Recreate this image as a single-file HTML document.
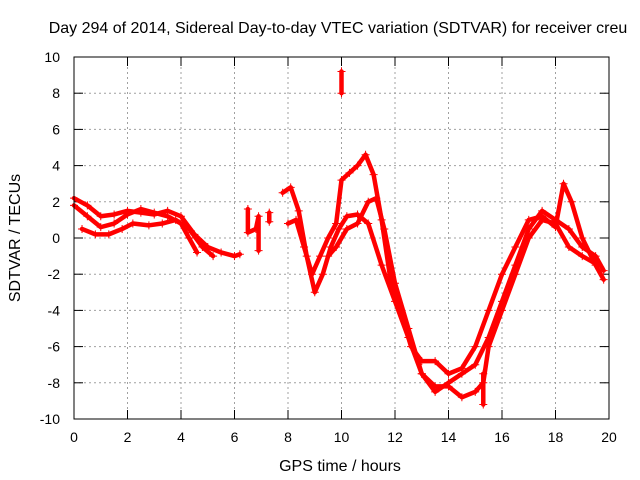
<!DOCTYPE html>
<html><head><meta charset="utf-8"><style>
body{margin:0;background:#fff}
svg{display:block;font-family:"Liberation Sans",sans-serif;font-size:14px}
.big{font-size:16px}
</style></head><body>
<svg id="c" width="640" height="480">
<text class="big" x="338" y="33" text-anchor="middle">Day 294 of 2014, Sidereal Day-to-day VTEC variation (SDTVAR) for receiver creu</text>
<text class="big" x="340" y="471" text-anchor="middle">GPS time / hours</text>
<text class="big" transform="translate(20,238) rotate(-90)" text-anchor="middle">SDTVAR / TECUs</text>
<g id="grid"></g>
<g id="ticks"></g>
<g id="series"></g>
<rect x="74" y="57" width="535" height="362" fill="none" stroke="#000"/>
</svg>
<script>
const xTicks=[0,2,4,6,8,10,12,14,16,18,20];
const yTicks=[-10,-8,-6,-4,-2,0,2,4,6,8,10];
const traceA=[[0,2.2],[0.5,1.8],[1,1.2],[1.5,1.3],[2,1.5],[2.5,1.4],[3,1.3],[3.5,1.5],[4,1.2],[4.5,0.2],[5,-0.5],[5.5,-0.8],[6,-1.0],[6.2,-0.9]];
const traceB=[[0,1.8],[0.5,1.2],[1,0.6],[1.5,0.8],[2,1.3],[2.5,1.6],[3,1.4],[3.5,1.2],[4,0.8],[4.3,0],[4.6,-0.8]];
const traceC=[[0.3,0.5],[0.8,0.2],[1.3,0.2],[1.8,0.5],[2.2,0.8],[2.8,0.7],[3.3,0.8],[3.8,1.0],[4.3,0.5],[4.8,-0.5],[5.2,-1.0]];
const traceG1=[[6.5,1.6],[6.5,0.3],[6.8,0.5],[6.9,1.2],[6.9,-0.7]];
const traceG2=[[7.3,1.4],[7.3,0.9]];
const traceD=[[7.8,2.5],[8.1,2.8],[8.4,1.5],[8.7,-1],[9.0,-3],[9.3,-2],[9.6,-0.5],[9.9,0.5],[10.2,1.2],[10.6,1.3],[11,0.8],[11.5,-1.5],[12,-3.5],[12.5,-5.5],[13,-7.5],[13.5,-8.5],[14,-8],[14.5,-7.5],[15,-7],[15.5,-5.5],[16,-3.5],[16.5,-1.5],[17,0.5],[17.5,1.5],[18,1],[18.5,0.5],[19,-0.5],[19.5,-1],[19.8,-1.8]];
const traceE=[[8,0.8],[8.3,1],[8.6,-0.5],[8.9,-2],[9.2,-1],[9.5,0],[9.8,0.8],[10.0,3.2],[10.3,3.6],[10.6,4],[10.9,4.6],[11.2,3.5],[11.5,1],[11.8,-2],[12.2,-4],[12.6,-6],[13,-6.8],[13.5,-6.8],[14,-7.5],[14.5,-7.2],[15,-6],[15.5,-4],[16,-2],[16.5,-0.5],[17,1],[17.5,1.2],[18,0.6],[18.3,3],[18.6,2],[19,0],[19.5,-1.5],[19.8,-2.3]];
const traceF=[[9.5,-1],[9.8,-0.5],[10.2,0.5],[10.6,0.8],[11,2],[11.3,2.2],[11.6,0.5],[12,-2.5],[12.5,-5],[13,-7.5],[13.5,-8.2],[14,-8.2],[14.5,-8.8],[15,-8.5],[15.3,-8],[15.5,-6],[16,-4],[16.5,-2],[17,0],[17.5,1],[18,0.8],[18.5,-0.5],[19,-1],[19.6,-1.5]];
const spike1=[[10,9.2],[10,8.0]];
const spike2=[[15.3,-7.5],[15.3,-9.2]];
const traces=[traceA,traceB,traceC,traceG1,traceG2,traceD,traceE,traceF,spike1,spike2];

const X=v=>74+v/20*535, Y=v=>238-v/10*181;
const ns="http://www.w3.org/2000/svg";
function mk(tag,parent,attrs){const e=document.createElementNS(ns,tag);for(const k in attrs)e.setAttribute(k,attrs[k]);parent.appendChild(e);return e;}
const grid=document.getElementById('grid'),ticks=document.getElementById('ticks'),ser=document.getElementById('series');
xTicks.forEach(t=>{
  if(t>0&&t<20){const l=mk('line',grid,{x1:X(t),x2:X(t),y1:57,y2:419,stroke:'#a0a0a0','stroke-dasharray':'2,3'});}
  mk('line',ticks,{x1:X(t),x2:X(t),y1:419,y2:410,stroke:'#000'});mk('line',ticks,{x1:X(t),x2:X(t),y1:57,y2:66,stroke:'#000'});
  const tx=mk('text',ticks,{x:X(t),y:442,'text-anchor':'middle'});tx.textContent=t;
  
});
yTicks.forEach(t=>{
  if(t>-10&&t<10){const l=mk('line',grid,{x1:74,x2:609,y1:Y(t),y2:Y(t),stroke:'#a0a0a0','stroke-dasharray':'2,3'});}
  mk('line',ticks,{x1:74,x2:83,y1:Y(t),y2:Y(t),stroke:'#000'});mk('line',ticks,{x1:609,x2:600,y1:Y(t),y2:Y(t),stroke:'#000'});
  const tx=mk('text',ticks,{x:60,y:Y(t)+5,'text-anchor':'end'});tx.textContent=t;
  
});
traces.forEach(tr=>{
  const p=mk('polyline',ser,{points:tr.map(d=>X(d[0])+','+Y(d[1])).join(' '),fill:'none',stroke:'#f00','stroke-width':4.5,'stroke-linejoin':'round','stroke-linecap':'round'});
  
  
  tr.forEach(d=>{
    const m=mk('path',ser,{d:`M${X(d[0])-4},${Y(d[1])}h8M${X(d[0])},${Y(d[1])-4}v8`,stroke:'#f00','stroke-width':1});
    
    
  });
});
</script>
</body></html>
